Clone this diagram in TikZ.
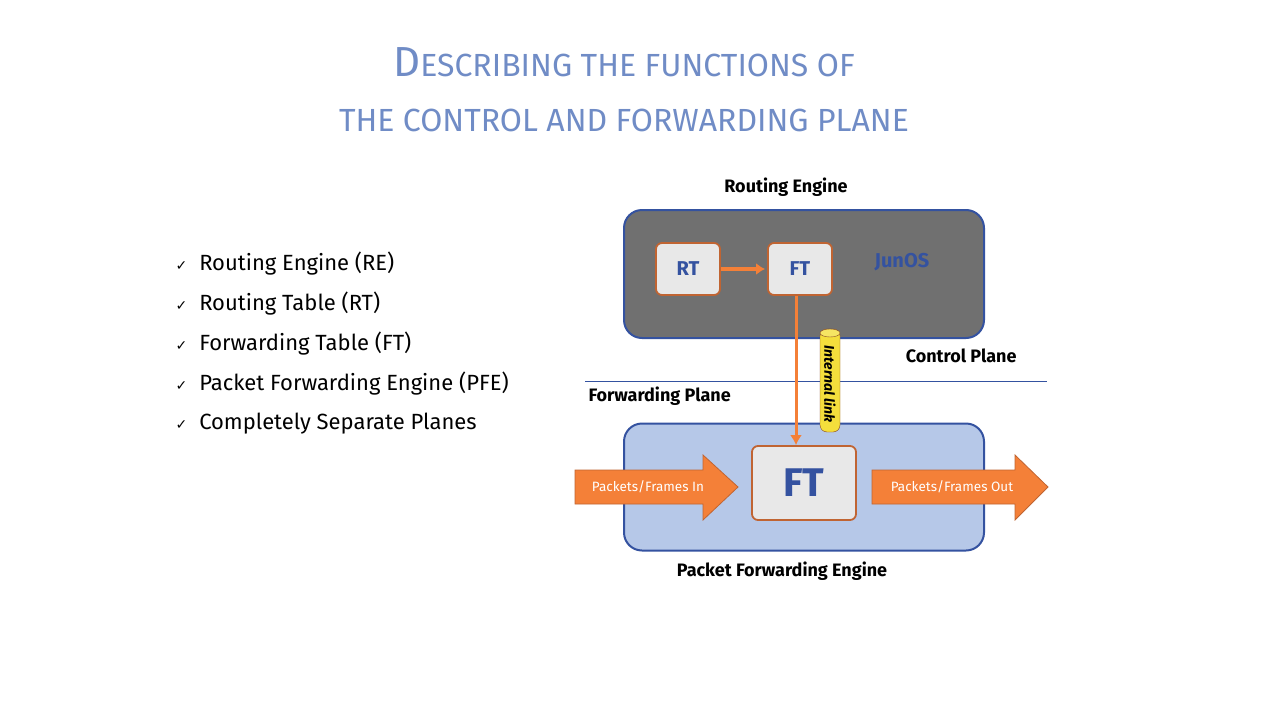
\documentclass[tikz,border=0pt]{standalone}
\usepackage{fontspec}
\setmainfont{Fira Sans}
\newfontfamily\symfont{DejaVu Sans}
\usetikzlibrary{arrows.meta}
\definecolor{TitleBlue}{RGB}{112,140,198}
\definecolor{EdgeBlue}{RGB}{52,82,160}
\definecolor{CtrlGray}{RGB}{112,112,112}
\definecolor{PfeBlue}{RGB}{182,200,232}
\definecolor{BoxGray}{RGB}{232,232,232}
\definecolor{Brown}{RGB}{192,100,50}
\definecolor{Flow}{RGB}{244,128,56}
\definecolor{Link}{RGB}{244,222,60}
\tikzset{
  plane/.style={draw=EdgeBlue, line width=2pt, rounded corners=18pt},
  table/.style={draw=Brown, line width=1.8pt, rounded corners=6pt, fill=BoxGray, text=EdgeBlue, font=\bfseries},
  flow/.style={draw=Brown, fill=Flow, line width=0.8pt},
  flowtxt/.style={text=white, font=\fontsize{13.5}{16}\selectfont},
  bullet/.style={anchor=west, font=\fontsize{22}{26}\selectfont},
  lbl/.style={font=\fontsize{18}{22}\selectfont\bfseries}
}
\newcommand{\tick}{{\symfont\fontsize{14}{16}\selectfont ✓}}
\begin{document}
\begin{tikzpicture}[x=1pt, y=-1pt]
\useasboundingbox[fill=white] (0,0) rectangle (1280,720);
% title
\node[text=TitleBlue, font=\fontsize{32}{36}\selectfont] (title1) at (624,62) {{\fontsize{42}{46}\selectfont D}ESCRIBING THE FUNCTIONS OF};
\node[text=TitleBlue, font=\fontsize{32}{36}\selectfont] (title2) at (624,120) {THE CONTROL AND FORWARDING PLANE};
% bullets
\foreach \txt [count=\i] in {Routing Engine (RE), Routing Table (RT), Forwarding Table (FT), Packet Forwarding Engine (PFE), Completely Separate Planes}
  \node[bullet] (b\i) at (172,224+40*\i) {\tick\hspace{12pt}\txt};
% planes
\node[lbl] (relbl) at (786,187) {Routing Engine};
\node[plane, fill=CtrlGray, minimum width=360pt, minimum height=128pt] (re) at (804,274) {};
\node[table, minimum width=64pt, minimum height=52pt, font=\fontsize{20}{24}\selectfont\bfseries] (rt) at (688,269) {RT};
\node[table, minimum width=64pt, minimum height=52pt, font=\fontsize{20}{24}\selectfont\bfseries] (ft) at (800,269) {FT};
\node[text=EdgeBlue, font=\fontsize{20}{24}\selectfont\bfseries] (junos) at (902,262) {JunOS};
\node[plane, fill=PfeBlue, minimum width=360pt, minimum height=127pt] (pfe) at (804,487) {};
\node[table, minimum width=104pt, minimum height=74pt, font=\fontsize{40}{44}\selectfont\bfseries] (fwd) at (804,483) {FT};
\node[lbl] (pfelbl) at (782,571) {Packet Forwarding Engine};
% plane border
\coordinate (sepl) at (585,381);
\coordinate (sepr) at (1047,381);
\draw[EdgeBlue, line width=1pt] (sepl) -- (sepr);
\node[lbl, anchor=east] (ctrl) at (1020,356) {Control Plane};
\node[lbl, anchor=west] (fwdp) at (585,396) {Forwarding Plane};
% links
\draw[-{Latex[length=9pt,width=12pt]}, Flow, line width=4pt, shorten >=2pt] (rt) -- (ft);
\draw[Flow, line width=3pt, -{Latex[length=10pt,width=12pt]}] (796,296) -- (fwd.north -| 796,0);
\draw[draw=Brown!70!black, fill=Link, rounded corners=7pt] (820,329) rectangle (840,432);
\draw[draw=Brown!70!black, fill=Link!80!white] (830,333) ellipse [x radius=10pt, y radius=4pt];
\node[rotate=-90, font=\fontsize{14}{16}\selectfont\bfseries\itshape] (linktxt) at (830,384) {Internal link};
% flows
\draw[flow] (575,470) -- (703,470) -- (703,455) -- (738,487) -- (703,520) -- (703,504) -- (575,504) -- cycle;
\node[flowtxt] (in) at (648,487) {Packets/Frames In};
\draw[flow] (872,470) -- (1015,470) -- (1015,455) -- (1048,487) -- (1015,520) -- (1015,504) -- (872,504) -- cycle;
\node[flowtxt] (out) at (952,487) {Packets/Frames Out};
\end{tikzpicture}
\end{document}
